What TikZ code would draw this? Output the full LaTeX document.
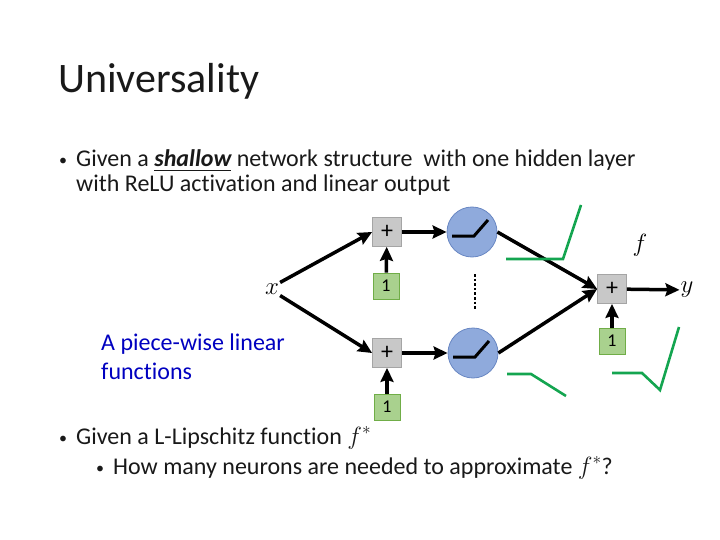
\documentclass[tikz,border=0pt]{standalone}
\usepackage{amsmath}
\usepackage{fontspec}
\setmainfont{Carlito}[Ligatures=NoCommon]
\usetikzlibrary{arrows.meta,positioning,calc}
\definecolor{sumfill}{RGB}{200,200,200}
\definecolor{sumedge}{RGB}{165,165,165}
\definecolor{biasfill}{RGB}{169,209,142}
\definecolor{biasedge}{RGB}{112,173,71}
\definecolor{neufill}{RGB}{143,170,220}
\definecolor{neuedge}{RGB}{105,135,195}
\definecolor{pgreen}{RGB}{20,165,80}
\definecolor{noteblue}{RGB}{0,0,192}
\definecolor{bodytext}{RGB}{25,25,25}

\begin{document}
\begin{tikzpicture}[x=1pt,y=-1pt,
  sum/.style={draw=sumedge, fill=sumfill, line width=0.8pt, minimum size=29pt, inner sep=0pt, font=\fontsize{24}{24}\selectfont},
  bias/.style={draw=biasedge, fill=biasfill, line width=0.8pt, minimum size=26pt, inner sep=0pt, font=\fontsize{18}{18}\selectfont},
  neuron/.style={circle, draw=neuedge, fill=neufill, line width=0.8pt, minimum size=50pt, inner sep=0pt},
  wire/.style={line width=3.5pt, -{Stealth[length=14pt,width=13pt,inset=2pt]}},
  piece/.style={line width=2.6pt, draw=pgreen},
  body/.style={anchor=base west, inner sep=0pt, text=bodytext, font=\fontsize{24}{29}\selectfont},
  dot/.style={anchor=base, inner sep=0pt, text=bodytext, font=\fontsize{16}{16}\selectfont},
  mlbl/.style={inner sep=1pt, font=\fontsize{26}{26}\selectfont}]
\useasboundingbox (0,0) rectangle (720,540);

% title and bullets
\node[anchor=base west, inner sep=0pt, text=bodytext, font=\fontsize{42}{42}\selectfont] (title) at (58,93) {Universality};
\node[dot] (b1) at (63,166) {•};
\node[body] (t1) at (76,167) {Given a \textbf{\textit{\underline{shallow}}} network structure\ \ with one hidden layer};
\node[body] (t2) at (76,192) {with ReLU activation and linear output};
\node[dot] (b2) at (63,443) {•};
\node[body] (t3) at (76,444) {Given a L-Lipschitz function $f^{*}$};
\node[dot] (b3) at (100,473) {•};
\node[body] (t4) at (113,474) {How many neurons are needed to approximate $f^{*}$?};
\node[anchor=base west, inner sep=0pt, text=noteblue, font=\fontsize{24}{29}\selectfont, align=left] (note) at (101,379) {A piece-wise linear\\functions};

% network
\node[mlbl] (xin) at (272,289) {$x$};
\node[sum] (plustop) at (387,232) {+};
\node[bias] (onetop) at (386,286) {1};
\node[sum] (plusbot) at (387,353) {+};
\node[bias] (onebot) at (387,407) {1};
\node[neuron] (hidtop) at (472,232) {};
\node[neuron] (hidbot) at (473,353) {};
\node[sum] (plusout) at (612,289) {+};
\node[bias] (oneout) at (612,341) {1};
\node[mlbl] (yout) at (687,290) {$y$};
\node[mlbl] (flab) at (640,245) {$f$};

\draw[wire] (xin.north east) -- (plustop.west);
\draw[wire] (xin.south east) -- (plusbot.west);
\draw[wire] (onetop) -- (plustop);
\draw[wire] (onebot) -- (plusbot);
\draw[wire] (plustop) -- (hidtop);
\draw[wire] (plusbot) -- (hidbot);
\draw[wire] (hidtop.east) -- (plusout.west);
\draw[wire] (hidbot.east) -- (plusout.west);
\draw[wire] (oneout) -- (plusout);
\draw[wire] (plusout) -- (yout);

\foreach \n in {hidtop,hidbot}
  \draw[line width=3pt] ($(\n)+(-20,4)$) -- ++(22,0) -- ++(14,-16);
\draw[line width=2.6pt, dotted] (475,274) -- (475,309);

% pieces
\draw[piece] (506,259) -- (563,259) -- (581,205);
\draw[piece] (507,374) -- (531,374) -- (566,396);
\draw[piece] (612,373) -- (642,373) -- (660,390) -- (679,327);
\end{tikzpicture}
\end{document}
